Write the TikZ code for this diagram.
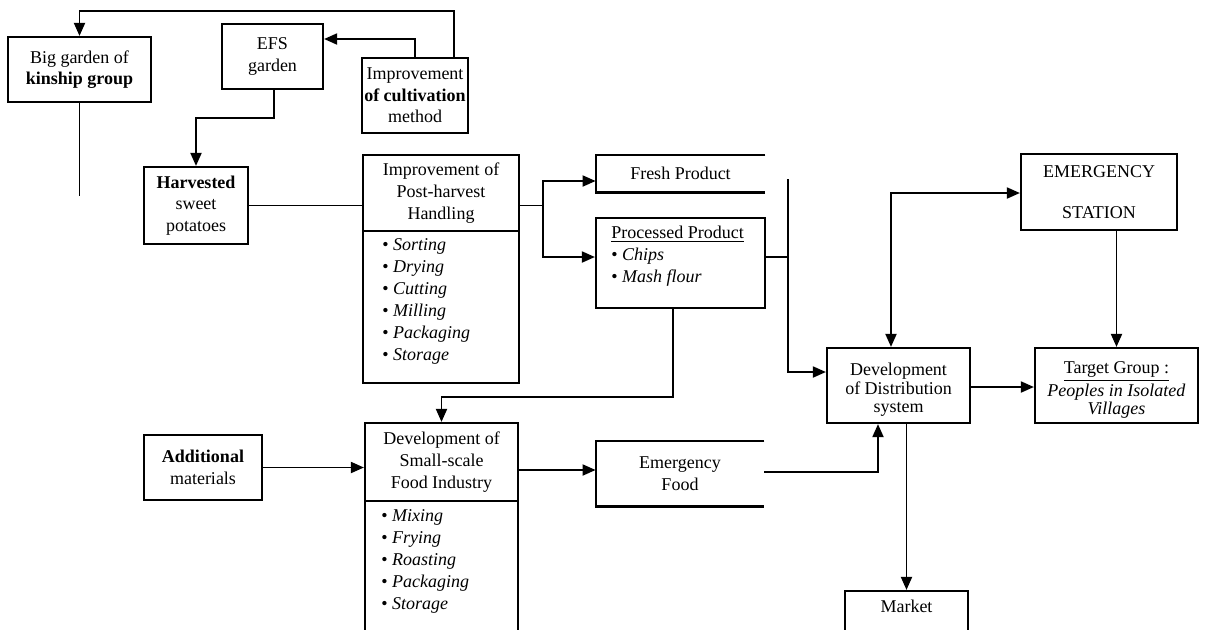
\documentclass[tikz,border=0pt]{standalone}
\usepackage{fontspec}
\setmainfont{Liberation Serif}
\usetikzlibrary{arrows.meta,calc}
\begin{document}
\begin{tikzpicture}[x=0.5pt,y=-0.5pt,
  every node/.style={font=\fontsize{9}{10.8}\selectfont, inner sep=1pt, align=center},
  bx/.style={draw, line width=1.1pt, rectangle},
  nb/.style={rectangle},
  ln/.style={line width=0.95pt},
  arr/.style={ln, -{Triangle[length=6.5pt,width=5.5pt]}},
  arrb/.style={ln, {Triangle[length=6.5pt,width=5.5pt]}-{Triangle[length=6.5pt,width=5.5pt]}},
  lst/.style={align=left, anchor=north west, inner sep=0pt}]
\useasboundingbox (0,0) rectangle (1207,629);
\clip (0,0) rectangle (1207,629);

% boxes
\node[bx, minimum width=71.5pt, minimum height=32.5pt] (big) at (79.5,69.5) {Big garden of\\\textbf{kinship group}};
\node[bx, minimum width=50.5pt, minimum height=32.5pt] (efs) at (272.5,56.5) {EFS\\garden};
\node[bx, minimum width=52pt, minimum height=37.5pt] (cult) at (415,95.5) {Improvement\\\textbf{of cultivation}\\method};
\node[bx, minimum width=52pt, minimum height=38.5pt] (harv) at (196,205.5) {\textbf{Harvested}\\sweet\\potatoes};
\node[bx, minimum width=78pt, minimum height=38pt] (posthead) at (441,193) {Improvement of\\Post-harvest\\Handling};
\node[bx, minimum width=78pt, minimum height=76pt] (postlist) at (441,307) {};
\node[lst] (posttext) at (382,238) {\textbullet~\textit{Sorting}\\[0.2pt]\textbullet~\textit{Drying}\\[0.2pt]\textbullet~\textit{Cutting}\\[0.2pt]\textbullet~\textit{Milling}\\[0.2pt]\textbullet~\textit{Packaging}\\[0.2pt]\textbullet~\textit{Storage}};
\node[nb, minimum width=84.5pt, minimum height=18.5pt] (fresh) at (680.5,173.5) {Fresh Product};
\draw[line width=1.1pt] (fresh.north east) -- (fresh.north west) -- (fresh.south west) -- (fresh.south east);
\node[bx, minimum width=84.5pt, minimum height=45pt] (proc) at (680.5,263) {};
\node[lst] (proctext) at (611,226) {\underline{Processed Product}\\\textbullet~\textit{Chips}\\\textbullet~\textit{Mash flour}};
\node[bx, minimum width=78pt, minimum height=38pt] (emst) at (1099,192) {EMERGENCY\\[10pt]STATION};
\node[bx, minimum width=71.5pt, minimum height=37.5pt, font=\fontsize{9}{9.2}\selectfont] (dist) at (898.5,385.5) {\rule{0pt}{10.5pt}Development\\of Distribution\\system};
\node[bx, minimum width=81.5pt, minimum height=37.5pt, font=\fontsize{9}{9.2}\selectfont] (target) at (1116.5,385.5) {\rule{0pt}{10.5pt}\underline{Target Group :}\\\textit{Peoples in Isolated}\\\textit{Villages}};
\node[bx, minimum width=59pt, minimum height=32.5pt] (addl) at (203,467.5) {\textbf{Additional}\\materials};
\node[bx, minimum width=76.5pt, minimum height=39pt] (smallhead) at (441.5,462) {Development of\\Small-scale\\Food Industry};
\node[bx, minimum width=76.5pt, minimum height=79pt] (smalllist) at (441.5,580) {};
\node[lst] (smalltext) at (381,509.5) {\textbullet~\textit{Mixing}\\[0.2pt]\textbullet~\textit{Frying}\\[0.2pt]\textbullet~\textit{Roasting}\\[0.2pt]\textbullet~\textit{Packaging}\\[0.2pt]\textbullet~\textit{Storage}};
\node[nb, minimum width=84pt, minimum height=32.5pt] (efood) at (680,473.5) {Emergency\\Food};
\draw[line width=1.1pt] (efood.north east) -- (efood.north west) -- (efood.south west) -- (efood.south east);
\node[bx, minimum width=61.5pt, minimum height=34pt] (market) at (906.5,625) {};
\node (marketlabel) at (906.5,606) {Market};

% connectors
\draw[arr] ($(cult.north)+(39,0)$) |- ($(big.north)+(0,-25)$) -- (big.north);
\draw[arr] (cult.north) |- ($(efs.east)+(0,-17.5)$);
\draw[arr] ($(efs.south)+(1.5,0)$) -- ++(0,28) -| (harv.north);
\draw[ln] (big.south) -- ++(0,93);
\draw[ln] (harv.east) -- (harv.east -| posthead.west);
\coordinate (pj) at (543,205.5);
\draw[ln] ($(posthead.east)+(0,12.5)$) -- (pj);
\draw[arr] (pj) |- ($(fresh.west)+(0,7.5)$);
\draw[arr] (pj) |- ($(proc.west)+(0,-6)$);
\coordinate (ft) at (788,179);
\draw[arr] (ft) |- ($(dist.west)+(0,-13.5)$);
\draw[ln] ($(proc.east)+(0,-6)$) -- (788,257);
\draw[arrb] ($(dist.north)+(-7.5,0)$) |- ($(emst.west)+(0,1)$);
\draw[arr] (target.north |- emst.south) -- (target.north);
\draw[arr] ($(dist.east)+(0,1.5)$) -- ($(target.west)+(0,1.5)$);
\draw[arr] ($(proc.south)+(-7.5,0)$) |- ($(smallhead.north)+(0,-25)$) -- (smallhead.north);
\draw[arr] (addl.east) -- (addl.east -| smallhead.west);
\draw[arr] ($(smallhead.east)+(0,8)$) -- ($(efood.west)+(0,-3.5)$);
\draw[arr] ($(efood.east)+(0,-1.5)$) -| ($(dist.south)+(-20.5,0)$);
\draw[arr] (dist.south -| market.north) -- (market.north);
\end{tikzpicture}
\end{document}
